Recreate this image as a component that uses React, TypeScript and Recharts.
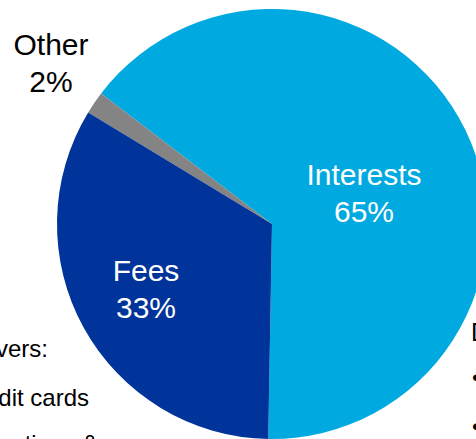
import React from "react";
import { PieChart, Pie, Cell } from "recharts";

const categories = ["Interests", "Other", "Fees"];
const shares = [64.9, 1.7, 33.4];
const shareLabels = ["65%", "2%", "33%"];
const colors = ["#00A9E0", "#848484", "#00349A"];
const labelColors = ["#FFFFFF", "#000000", "#FFFFFF"];

// label anchor offsets relative to pie centre (first-line baseline)
const labelOffsets: Record<string, [number, number]> = {
  Interests: [92, -39],
  Other: [-221, -169],
  Fees: [-126, 57],
};

const data = categories.map((name, i) => ({ name, value: shares[i], pct: shareLabels[i] }));

const FONT = "'Liberation Sans', Arial, Helvetica, sans-serif";

const renderLabel = (props: any) => {
  const { cx, cy, index } = props;
  const name = categories[index];
  const [dx, dy] = labelOffsets[name];
  const x = cx + dx;
  const y = cy + dy;
  return (
    <text
      key={name}
      x={x}
      y={y}
      textAnchor="middle"
      fill={labelColors[index]}
      fontSize={30}
      fontFamily={FONT}
    >
      <tspan x={x} y={y}>{name}</tspan>
      <tspan x={x} y={y + 37}>{shareLabels[index]}</tspan>
    </text>
  );
};

export default function App() {
  return (
    <div style={{ position: "fixed", left: 0, top: 0, width: 476, height: 439, background: "#fff", overflow: "hidden" }}>
      <PieChart width={476} height={439} margin={{ top: 0, right: 0, bottom: 0, left: 0 }}>
        <Pie
          data={data}
          dataKey="value"
          nameKey="name"
          cx={272}
          cy={224}
          outerRadius={215}
          startAngle={-91}
          endAngle={269}
          stroke="none"
          label={renderLabel}
          labelLine={false}
          isAnimationActive={false}
        >
          {data.map((d, i) => (
            <Cell key={d.name} fill={colors[i]} stroke="none" />
          ))}
        </Pie>
        <text x={48} y={357} textAnchor="end" fontSize={24} fontFamily={FONT} fill="#000">Key drivers:</text>
        <text x={89} y={406} textAnchor="end" fontSize={24} fontFamily={FONT} fill="#000">• Credit cards</text>
        <text x={98} y={452} textAnchor="end" fontSize={24} fontFamily={FONT} fill="#000">• Transactions &amp;</text>
        <text x={471} y={341} textAnchor="start" fontSize={25} fontFamily={FONT} fill="#000">Drivers</text>
        <text x={472} y={386} textAnchor="start" fontSize={24} fontFamily={FONT} fill="#000">• Loans</text>
        <text x={472} y={435} textAnchor="start" fontSize={24} fontFamily={FONT} fill="#000">• Deposits</text>
      </PieChart>
    </div>
  );
}
